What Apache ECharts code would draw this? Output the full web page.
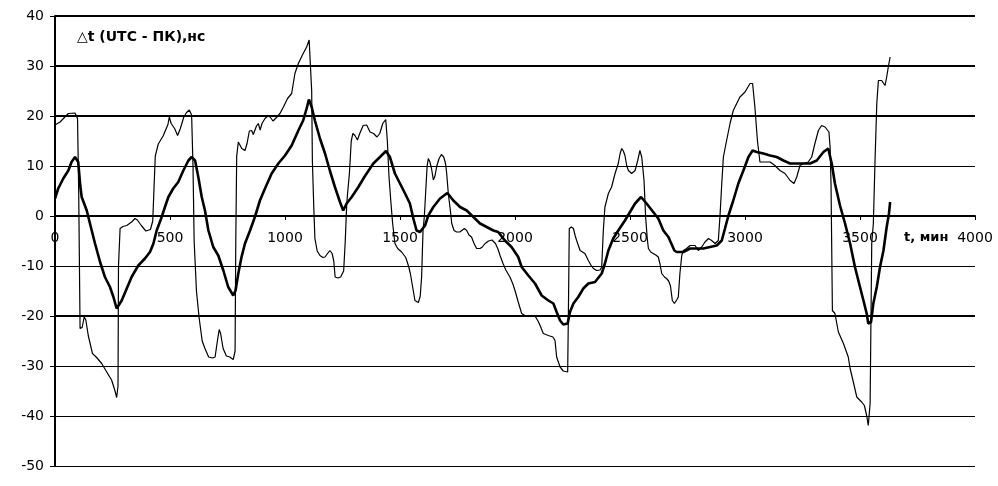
<!DOCTYPE html>
<html>
<head>
<meta charset="utf-8">
<script src="https://cdn.jsdelivr.net/npm/echarts@6/dist/echarts.min.js"></script>
<style>
  html, body { margin: 0; padding: 0; background: #fff; }
  #chart { width: 998px; height: 486px; }
</style>
</head>
<body>
<div id="chart"></div>
<script>
// сырой ряд (тонкая линия): t, мин / Δt, нс
var rawT = [0,22,43,58,87,94,98,103,109,118,127,134,145,163,181,203,225,246,261,268,274,276,283,295,312,333,348,358,377,395,415,425,430,436,
  449,470,491,497,505,520,533,545,560,572,584,594,600,605,615,627,640,652,668,685,696,706,714,720,731,745,760,775,783,786,790,797,
  804,812,826,835,845,855,862,869,876,884,892,900,913,925,935,948,956,965,978,993,1011,1029,1043,1058,1079,1094,1105,1112,1116,1119,1125,1130,
  1140,1152,1165,1174,1185,1195,1205,1212,1218,1230,1242,1255,1262,1268,1272,1280,1288,1295,1304,1315,1325,1340,1355,1370,1385,1400,1412,1425,1438,
  1445,1452,1460,1468,1478,1490,1507,1525,1537,1545,1555,1565,1580,1588,1594,1600,1606,1612,1618,1623,1630,1637,1645,1652,1660,1670,1680,1690,1698,
  1703,1710,1718,1725,1735,1746,1760,1768,1780,1790,1800,1811,1822,1833,1848,1858,1870,1885,1900,1915,1925,1935,1948,1960,1978,1990,2000,2014,2029,
  2043,2065,2087,2100,2109,2123,2145,2165,2174,2181,2196,2210,2217,2229,2232,2236,2245,2254,2262,2268,2283,2304,2319,2330,2341,2355,2370,2377,2384,
  2391,2406,2420,2435,2449,2457,2464,2471,2478,2486,2493,2507,2515,2522,2533,2543,2551,2557,2561,2568,2575,2580,2590,2601,2612,2623,2630,2638,2650,
  2659,2668,2676,2684,2693,2703,2710,2717,2725,2732,2746,2761,2768,2783,2797,2812,2826,2841,2855,2870,2884,2891,2899,2906,2920,2935,2949,2964,2978,
  3000,3022,3033,3043,3054,3065,3087,3109,3130,3152,3174,3196,3213,3225,3239,3254,3275,3290,3304,3319,3333,3348,3365,3370,3374,3380,3391,3406,3428,
  3449,3457,3471,3486,3507,3519,3529,3536,3544,3551,3558,3565,3573,3580,3594,3602,3609,3616,3623,3631];
var rawDt = [18.2,18.8,19.8,20.5,20.6,20.6,19.5,5,-22.5,-22.3,-20.2,-20.8,-24,-27.5,-28.3,-29.5,-31.2,-32.8,-35,-36.3,-34,-10,-2.5,-2.1,-1.9,-1.2,-0.5,-0.8,-2,-3,-2.7,-1,5,12,
  14.4,16,18.3,19.8,18.5,17.5,16.1,17.5,19.8,20.7,21.2,20.2,10,-5,-15,-20.5,-25,-26.5,-28.2,-28.4,-28.2,-25,-22.7,-23.5,-26.5,-28,-28.2,-28.7,-27,-5,12,14.8,
  14.8,13.5,13.1,14.5,17,17.1,16.3,16.4,18,18.5,17.2,18.5,19.5,20,19.8,19,18.8,19.8,20.5,21.8,23.5,24.5,28.5,30.5,32.5,33.8,35.2,35.2,25,11.1,2,-4.5,
  -7,-7.9,-8.3,-8.2,-7.5,-6.9,-7.5,-9,-12.2,-12.4,-12.2,-11,-5,2,4.5,8.5,15,16.5,16.1,15.2,16.5,18.1,18.2,16.8,16.5,15.8,16.5,18.5,19.3,
  15,8,3,-1.5,-5.5,-6.5,-7.2,-8.3,-10,-11.5,-14.2,-16.9,-17.3,-16,-12.2,-3,0,5.1,10,11.5,10.8,9.5,7.2,8,10,11.5,12.3,11.8,10.5,
  8.5,4.5,1.5,-1.5,-2.9,-3.2,-3.2,-3.2,-2.5,-2.9,-3.8,-4.2,-5.5,-6.5,-6.5,-6.2,-5.5,-5,-4.8,-5.5,-6.5,-7.9,-9.5,-10.8,-12.2,-13.5,-14.9,-17.2,-19.5,
  -19.9,-19.9,-20,-21,-21.9,-23.5,-23.9,-24.2,-24.9,-28.2,-30.2,-31,-31.2,-31.2,-20,-2.5,-2.2,-2.5,-4,-4.9,-6.9,-7.5,-8.9,-9.8,-10.5,-10.9,-10.8,-10.2,-2.9,
  1.8,4.5,5.8,8.5,10.5,12.5,13.5,13,12.1,10,9.1,8.5,8.8,9.1,11,13.1,11.8,9,7.1,-0.2,-4.5,-6.5,-7.2,-7.5,-7.8,-8.2,-9.5,-11.5,-12.2,
  -12.5,-13,-14,-16.9,-17.5,-16.8,-16.2,-11.5,-7.9,-6.9,-6.5,-5.9,-5.5,-5.9,-6.9,-6.2,-5.2,-4.5,-4.9,-5.5,-4.9,-0.2,6.5,11.8,15.1,18.5,21.1,22.5,23.8,
  24.8,26.5,26.5,21.8,15.1,10.8,10.8,10.8,10.1,9.1,8.5,7.1,6.5,7.8,10.1,10.5,10.8,11.8,14.5,17.1,18.1,17.8,16.8,13.8,6.5,-18.9,-19.5,-23.2,-25.5,
  -28.2,-30.5,-33.2,-36.2,-37.2,-37.9,-39.9,-41.9,-37.5,-5.5,-1.5,10.5,22.5,27.1,27.1,27,26.1,27.8,29.8,31.8];

// сглаженный ряд (жирная линия)
var smoothT = [0,14,36,58,72,87,95,101,110,116,138,152,174,196,217,239,254,268,275,290,312,333,362,391,413,428,442,464,478,493,514,536,558,580,594,
  609,623,638,652,667,688,710,732,753,775,785,797,811,826,848,869,891,913,942,971,1000,1029,1058,1079,1094,1104,1116,1130,1152,1174,1195,1217,1239,
  1253,1268,1290,1319,1345,1355,1384,1413,1439,1456,1478,1500,1522,1543,1558,1572,1587,1609,1623,1645,1674,1706,1732,1761,1790,1819,1848,1877,1906,
  1927,1956,1985,2014,2029,2058,2087,2116,2145,2167,2181,2196,2210,2229,2239,2254,2275,2297,2319,2348,2377,2391,2406,2427,2449,2478,2500,2522,2548,
  2572,2601,2623,2645,2667,2693,2703,2732,2761,2790,2819,2848,2877,2899,2913,2928,2949,2971,2993,3015,3033,3051,3080,3109,3138,3167,3196,3225,3254,
  3283,3312,3341,3362,3370,3377,3391,3413,3435,3457,3478,3500,3515,3529,3536,3548,3558,3573,3587,3602,3616,3626,3631];
var smoothDt = [3.5,5.5,7.5,9.1,10.8,11.8,11.5,10.8,6,3.8,1.1,-1.5,-5.5,-9.2,-12.2,-14.2,-16.2,-18.5,-18.9,-16.9,-14.5,-12.2,-9.9,-8.5,-7.2,-5.5,-2.9,-0.2,1.8,3.8,5.5,6.8,9.1,11.1,11.8,
  11.1,7.8,3.8,1.1,-2.9,-6.2,-7.9,-10.9,-14.2,-15.9,-14.9,-11.5,-8.2,-5.5,-2.9,-0.2,3.1,5.5,8.5,10.5,12.1,14.1,17.1,19.1,21.5,23.3,21.8,19.1,15.5,12.5,9.1,5.8,2.8,
  1.1,2.5,3.8,5.8,7.8,8.5,10.5,11.8,13,11.8,8.5,6.5,4.5,2.5,-0.5,-2.9,-3.2,-1.9,0.1,1.8,3.5,4.6,3.1,1.8,1.1,-0.2,-1.5,-2.2,-2.9,
  -3.2,-4.9,-6.2,-8.2,-10.2,-11.9,-13.5,-15.9,-16.9,-17.5,-19.2,-20.9,-21.7,-21.5,-19.2,-17.5,-16.2,-14.5,-13.5,-13.2,-11.5,-9.5,-6.9,-4.5,-2.9,-0.9,0.8,2.5,3.8,
  2.5,0.8,-0.5,-2.9,-4.2,-6.9,-7.2,-7.2,-6.5,-6.5,-6.5,-6.2,-5.9,-4.9,-2.5,0.1,3.1,6.5,9.1,11.8,13.1,12.8,12.5,12.1,11.8,11.1,10.5,10.5,10.5,
  10.5,11.1,12.8,13.5,13.1,10.5,6.5,2.1,-1.5,-5.5,-10.2,-14.2,-16.9,-19.5,-21.5,-21.2,-17.5,-14.2,-10.2,-6.9,-2.2,0.5,2.8];

var boldGrid = [40, 30, 20, -20];

var rawData = rawT.map(function(t, i){ return [t, rawDt[i]]; });
var smoothData = smoothT.map(function(t, i){ return [t, smoothDt[i]]; });

var chart = echarts.init(document.getElementById('chart'));
var font = 'DejaVu Sans';
var option = {
  animation: false,
  grid: { left: 55, right: 23, top: 16, bottom: 20 },
  xAxis: {
    type: 'value',
    position: 'bottom',
    offset: -250,   // ось проходит через 0 (466 - 216)
    min: 0, max: 4000, interval: 500,
    axisLine: { onZero: false, lineStyle: { color: '#000', width: 2 } },
    axisTick: { show: true, length: 4, lineStyle: { color: '#000', width: 1 } },
    axisLabel: { color: '#000', fontFamily: font, fontSize: 14, margin: 15,
      formatter: function(v){ return String(v); } },
    splitLine: { show: false }
  },
  yAxis: {
    type: 'value',
    min: -50, max: 40, interval: 10,
    axisLine: { show: true, lineStyle: { color: '#000', width: 2 } },
    axisTick: { show: true, length: 5, lineStyle: { color: '#000', width: 1 } },
    axisLabel: { color: '#000', fontFamily: font, fontSize: 14, margin: 11 },
    splitLine: { show: true, lineStyle: { color: '#000', width: 1 } }
  },
  graphic: [
    { type: 'text', left: 77, top: 30,
      style: { text: '△t (UTC - ПК),нс', font: 'bold 14px "DejaVu Sans"', fill: '#000' } },
    { type: 'text', left: 904, top: 231,
      style: { text: 't, мин', font: 'bold 13px "DejaVu Sans"', fill: '#000' } }
  ],
  series: [
    {
      type: 'line',
      data: rawData,
      showSymbol: false,
      lineStyle: { color: '#000', width: 1.2 },
      markLine: {
        silent: true,
        symbol: 'none',
        label: { show: false },
        lineStyle: { color: '#000', width: 2, type: 'solid' },
        data: boldGrid.map(function(v){ return { yAxis: v }; })
      }
    },
    {
      type: 'line',
      data: smoothData,
      showSymbol: false,
      lineStyle: { color: '#000', width: 2.6 }
    }
  ]
};
chart.setOption(option);
</script>
</body>
</html>
